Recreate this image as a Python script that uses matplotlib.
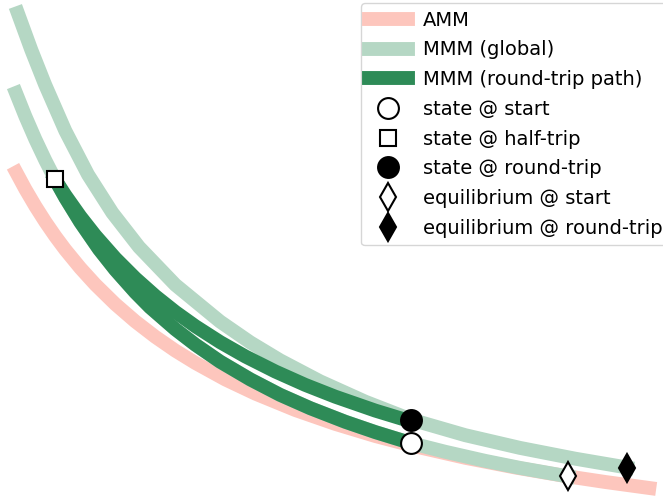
import matplotlib
matplotlib.use("Agg")
import matplotlib.pyplot as plt
from matplotlib.lines import Line2D

# reserves (x, y)

# AMM curve
amm_x = [2.21, 2.3, 2.4, 2.5, 2.6, 2.7, 2.85, 3.0, 3.2, 3.4, 3.6, 3.8, 4.0, 4.3,
         4.6, 5.0, 5.4, 5.8, 6.2, 6.7, 7.2, 7.7, 8.1, 8.54]
amm_y = [4.258, 4.091, 3.921, 3.764, 3.619, 3.485, 3.302, 3.137, 2.941, 2.768, 2.614,
         2.476, 2.353, 2.188, 2.046, 1.882, 1.743, 1.622, 1.518, 1.404, 1.307, 1.222,
         1.162, 1.102]

# MMM curve through the round-trip state (upper)
mmm_up_x = [2.225, 2.36, 2.497, 2.7, 2.927, 3.17, 3.437, 3.8, 4.247, 4.55, 4.847,
            5.247, 5.7, 6.157, 6.7, 7.247, 7.8, 8.317]
mmm_up_y = [5.852, 5.483, 5.138, 4.674, 4.236, 3.855, 3.512, 3.134, 2.767, 2.558,
            2.379, 2.169, 1.965, 1.787, 1.630, 1.503, 1.395, 1.307]

# MMM curve through the starting state (lower)
mmm_lo_x = [2.207, 2.3, 2.4, 2.5, 2.597, 2.7, 2.85, 3.037, 3.2, 3.4, 3.547, 3.8, 4.0,
            4.247, 4.55, 4.847, 5.15, 5.5, 5.8, 6.157, 6.5, 6.9, 7.247, 7.727]
mmm_lo_y = [5.052, 4.820, 4.590, 4.379, 4.189, 4.005, 3.761, 3.490, 3.284, 3.059,
            2.910, 2.690, 2.536, 2.366, 2.188, 2.034, 1.900, 1.764, 1.661, 1.551,
            1.464, 1.373, 1.303, 1.218]

# way back from the half-trip state to the round-trip state
back_x = [2.597, 2.7, 2.85, 3.0, 3.2, 3.4, 3.6, 3.8, 4.0, 4.25, 4.5, 4.8, 5.1, 5.4,
          5.8, 6.157]
back_y = [4.189, 4.030, 3.818, 3.627, 3.400, 3.200, 3.022, 2.863, 2.720, 2.560,
          2.418, 2.267, 2.133, 2.015, 1.876, 1.767]

# states
start = (6.157, 1.551)
half = (2.597, 4.189)
roundtrip = (6.157, 1.780)
eq_start = (7.727, 1.218)
eq_round = (8.317, 1.307)

c_amm = "#fdc6bd"
c_glob = "#b5d7c4"
c_path = "#2e8b57"
lw = 10

fig = plt.figure(figsize=(6.63, 4.97), dpi=100)
ax = fig.add_axes([0, 0, 1, 1])
ax.axis("off")

ax.plot(amm_x, amm_y, color=c_amm, lw=lw, solid_joinstyle="round")
ax.plot(mmm_up_x, mmm_up_y, color=c_glob, lw=lw, solid_joinstyle="round")
ax.plot(mmm_lo_x, mmm_lo_y, color=c_glob, lw=lw, solid_joinstyle="round")
# out: start -> half-trip along the lower curve, then back
ax.plot(mmm_lo_x[4:20], mmm_lo_y[4:20], color=c_path, lw=lw, solid_joinstyle="round")
ax.plot(back_x, back_y, color=c_path, lw=lw, solid_joinstyle="round")

mk = dict(markeredgecolor="black", markeredgewidth=1.5, ls="none")
ax.plot(*start, marker="o", ms=15, mfc="white", **mk)
ax.plot(*half, marker="s", ms=12, mfc="white", **mk)
ax.plot(*roundtrip, marker="o", ms=15, mfc="black", **mk)
ax.plot(*eq_start, marker="d", ms=14, mfc="white", **mk)
ax.plot(*eq_round, marker="d", ms=14, mfc="black", **mk)

ax.set_xlim(2.047, 8.677)
ax.set_ylim(1.012, 5.982)

handles = [
    Line2D([], [], color=c_amm, lw=lw),
    Line2D([], [], color=c_glob, lw=lw),
    Line2D([], [], color=c_path, lw=lw),
    Line2D([], [], marker="o", ms=15, mfc="white", **mk),
    Line2D([], [], marker="s", ms=12, mfc="white", **mk),
    Line2D([], [], marker="o", ms=15, mfc="black", **mk),
    Line2D([], [], marker="d", ms=14, mfc="white", **mk),
    Line2D([], [], marker="d", ms=14, mfc="black", **mk),
]
labels = ["AMM", "MMM (global)", "MMM (round-trip path)", "state @ start",
          "state @ half-trip", "state @ round-trip", "equilibrium @ start",
          "equilibrium @ round-trip"]
ax.legend(handles, labels, loc="upper left", bbox_to_anchor=(361 / 663, 1 - 3 / 497),
          fontsize=14, labelspacing=0.55, borderaxespad=0)

fig.savefig("out.png", dpi=100)
